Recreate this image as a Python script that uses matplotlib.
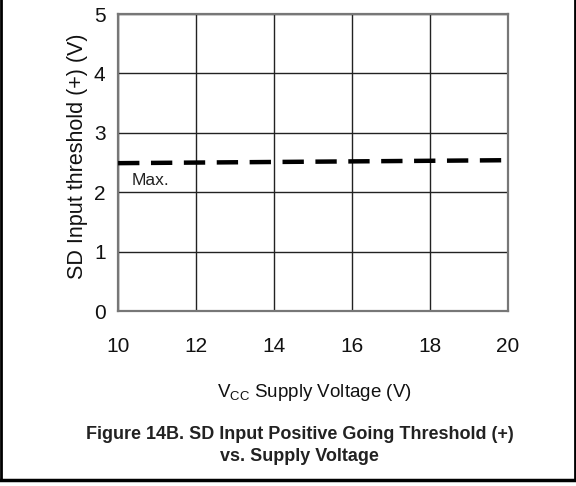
import matplotlib.pyplot as plt
from matplotlib.lines import Line2D

plt.rcParams['font.family'] = ['Liberation Sans', 'DejaVu Sans']

# values
vcc = [10, 12, 14, 16, 18, 20]
sd_max = [2.49, 2.50, 2.51, 2.52, 2.53, 2.54]
x_ticks = [10, 12, 14, 16, 18, 20]
y_ticks = [0, 1, 2, 3, 4, 5]

fig = plt.figure(figsize=(5.76, 4.86), dpi=100)
ax = fig.add_axes([0.205, 0.360, 0.677, 0.611])

ax.plot(vcc, sd_max, color='black', linewidth=3.2, dashes=(4.8, 2.6),
        solid_capstyle='butt', dash_capstyle='butt', zorder=3)
ax.text(10.35, 2.2, 'Max.', fontsize=12.5, color='#222222', va='center', ha='left')

ax.set_xlim(10, 20)
ax.set_ylim(0, 5)
ax.set_xticks(x_ticks)
ax.set_yticks(y_ticks)
ax.grid(True, color='#222222', linewidth=1.0)
ax.set_axisbelow(True)
ax.tick_params(length=0, labelsize=15, colors='#111111')
ax.tick_params(axis='y', pad=9)
ax.tick_params(axis='x', pad=19)
for s in ax.spines.values():
    s.set_color('#777777')
    s.set_linewidth(1.6)

fig.text(0.135, 0.678, 'SD Input threshold (+) (V)', fontsize=15.5, rotation=90,
         ha='center', va='center', color='#111111')
fig.text(0.545, 0.193, r'V$_{\mathregular{CC}}$ Supply Voltage (V)', fontsize=13.5,
         ha='center', va='center', color='#111111')
fig.text(0.52, 0.083, 'Figure 14B. SD Input Positive Going Threshold (+)\nvs. Supply Voltage',
         fontsize=13, fontweight='bold', ha='center', va='center', color='#222222',
         linespacing=1.4)

# outer frame (left, right, bottom)
fig.add_artist(Line2D([0.002, 0.002], [0.012, 1.0], transform=fig.transFigure,
                      color='black', linewidth=2))
fig.add_artist(Line2D([0.998, 0.998], [0.012, 1.0], transform=fig.transFigure,
                      color='black', linewidth=2))
fig.add_artist(Line2D([0.0, 1.0], [0.012, 0.012], transform=fig.transFigure,
                      color='black', linewidth=2.5))

fig.savefig('out.png', dpi=100)
